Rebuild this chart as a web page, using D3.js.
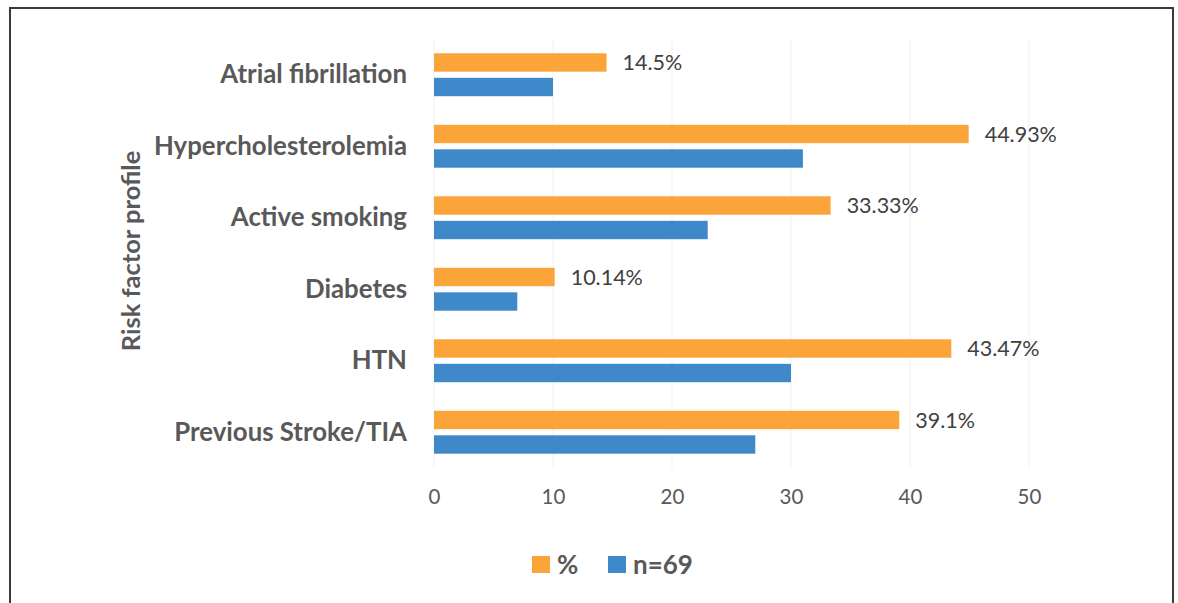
<!DOCTYPE html>
<html>
<head>
<meta charset="utf-8">
<script src="https://cdn.jsdelivr.net/npm/d3@7"></script>
<style>
  html, body { margin: 0; padding: 0; background: #fff; }
  svg { display: block; }
</style>
</head>
<body>
<svg id="chart" width="1178" height="603"></svg>
<script>
const categories = ["Atrial fibrillation", "Hypercholesterolemia", "Active smoking", "Diabetes", "HTN", "Previous Stroke/TIA"];
const percentValues = [14.5, 44.93, 33.33, 10.14, 43.47, 39.1];
const percentLabels = ["14.5%", "44.93%", "33.33%", "10.14%", "43.47%", "39.1%"];
const countValues = [10, 31, 23, 7, 30, 27];
const xTicks = [0, 10, 20, 30, 40, 50];
const seriesNames = ["%", "n=69"];
const seriesColors = ["#FAA43A", "#3F88C9"];
const yAxisTitle = "Risk factor profile";

(function () {
const svg = d3.select("#chart");
const plotLeft = 434, plotRight = 1029, plotTop = 39, plotBottom = 468;
const font = "Lato, 'Open Sans', sans-serif";
const textColor = "#595959";

// frame
svg.append("rect").attr("x", 10).attr("y", 8).attr("width", 1163).attr("height", 620)
  .attr("fill", "none").attr("stroke", "#3a3a3a").attr("stroke-width", 2);

const x = d3.scaleLinear().domain([0, 50]).range([plotLeft, plotRight]);
const y0 = d3.scaleBand().domain(categories).range([plotTop, plotBottom]).paddingInner(0.4).paddingOuter(0.2);
const y1 = d3.scaleBand().domain(["pct", "n"]).range([0, y0.bandwidth()]).paddingInner(0.25);

// gridlines
svg.append("g").selectAll("line").data(xTicks).join("line")
  .attr("x1", d => x(d)).attr("x2", d => x(d))
  .attr("y1", plotTop).attr("y2", plotBottom)
  .attr("stroke", "#f1f1f1").attr("stroke-width", 1);

// x tick labels via axis
const xAxis = svg.append("g").attr("transform", `translate(0,${plotBottom})`)
  .call(d3.axisBottom(x).tickValues(xTicks).tickSize(0).tickPadding(21).tickFormat(d3.format("d")));
xAxis.select(".domain").remove();
xAxis.selectAll("text").attr("font-family", font).attr("font-size", 20.5).attr("fill", textColor);

// bars
const rows = categories.map((c, i) => ({ c, pct: percentValues[i], n: countValues[i], label: percentLabels[i] }));
const g = svg.append("g");
g.selectAll("rect.pct").data(rows).join("rect").attr("class", "pct")
  .attr("x", x(0)).attr("y", d => y0(d.c) + y1("pct"))
  .attr("width", d => x(d.pct) - x(0)).attr("height", y1.bandwidth())
  .attr("fill", seriesColors[0]);
g.selectAll("rect.n").data(rows).join("rect").attr("class", "n")
  .attr("x", x(0)).attr("y", d => y0(d.c) + y1("n"))
  .attr("width", d => x(d.n) - x(0)).attr("height", y1.bandwidth())
  .attr("fill", seriesColors[1]);

// value labels
g.selectAll("text.val").data(rows).join("text").attr("class", "val")
  .attr("x", d => x(d.pct) + 16)
  .attr("y", d => y0(d.c) + y1("pct") + y1.bandwidth() / 2)
  .attr("dy", "0.35em")
  .attr("font-family", font).attr("font-size", 21.5).attr("fill", "#404040")
  .text(d => d.label);

// category labels
const yAxis = svg.append("g").attr("transform", `translate(${plotLeft},0)`)
  .call(d3.axisLeft(y0).tickSize(0).tickPadding(27));
yAxis.select(".domain").remove();
yAxis.selectAll("text").attr("font-family", font).attr("font-size", 25.8).attr("font-weight", "bold").attr("fill", textColor);

// y axis title
svg.append("text").attr("transform", `translate(131,251) rotate(-90)`)
  .attr("text-anchor", "middle").attr("dy", "0.35em")
  .attr("font-family", font).attr("font-size", 25.5).attr("font-weight", "bold").attr("fill", textColor)
  .text(yAxisTitle);

// legend
const legendX = [532, 608];
const leg = svg.append("g");
seriesNames.forEach((name, i) => {
  leg.append("rect").attr("x", legendX[i]).attr("y", 556).attr("width", 18).attr("height", 17).attr("fill", seriesColors[i]);
  leg.append("text").attr("x", legendX[i] + 25).attr("y", 574)
    .attr("font-family", font).attr("font-size", 26).attr("font-weight", "bold").attr("fill", textColor)
    .text(name);
});
})();
</script>
</body>
</html>
